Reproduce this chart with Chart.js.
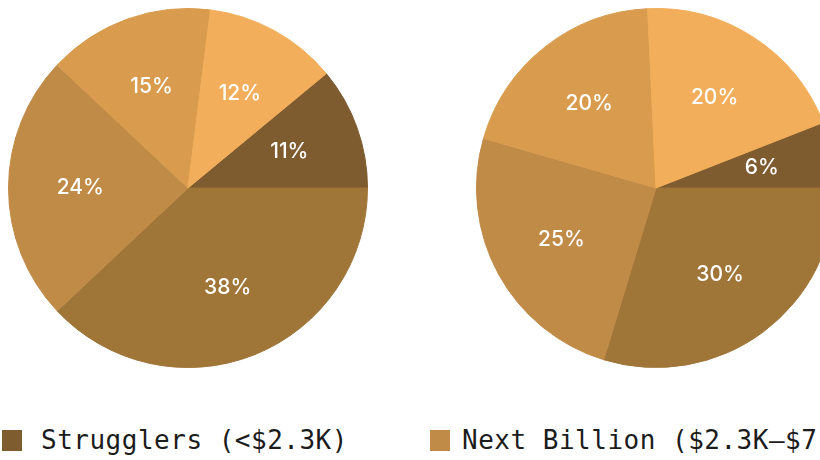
<!DOCTYPE html>
<html>
<head>
<meta charset="utf-8">
<script src="https://cdn.jsdelivr.net/npm/chart.js@4/dist/chart.umd.min.js"></script>
<style>
  html, body { margin: 0; padding: 0; background: #fff; overflow: hidden; }
  body { width: 820px; height: 460px; position: relative; }
  .pie { position: absolute; top: 8px; width: 360px; height: 360px; }
  #pie-a { left: 8px; }
  #pie-b { left: 476px; }
  #legend {
    position: absolute; left: 2px; top: 427px;
    display: flex; white-space: nowrap; width: 2400px;
    font-family: "DejaVu Sans Mono", monospace; font-size: 26px; color: #1c1c1c;
  }
  .item { display: flex; align-items: center; width: 428px; flex: none; }
  .swatch { width: 20px; height: 21px; margin-right: 19px; flex: none; }
  .item + .item .swatch { margin-right: 12px; }
  .item span.txt { line-height: 26px; letter-spacing: 0.5px; }
</style>
</head>
<body>
<div class="pie" id="pie-a"><canvas id="chart-a" width="360" height="360"></canvas></div>
<div class="pie" id="pie-b"><canvas id="chart-b" width="360" height="360"></canvas></div>
<div id="legend"></div>

<script>
(function () {
  'use strict';

  // segments, in legend order
  var segments = [
    'Strugglers (<$2.3K)',
    'Next Billion ($2.3K–$7.4K)',
    'Aspirers ($7.4K–$18.5K)',
    'Affluent ($18.5K–$37K)',
    'Elite (>$37K)'
  ];
  var segmentColors = ['#7f5b30', '#c08a47', '#a07538', '#d99c4e', '#f2ae5a'];

  // share of each segment (%) for the two pies, same order as segments
  var sharesLeft = [11, 24, 38, 15, 12];
  var sharesRight = [6, 25, 30, 20, 20];

  // clockwise order the slices are laid out in
  var sliceOrder = [0, 2, 1, 3, 4];

  var labelPlugin = {
    id: 'sliceLabels',
    afterDatasetsDraw: function (chart) {
      var ctx = chart.ctx;
      var ds = chart.data.datasets[0];
      var meta = chart.getDatasetMeta(0);
      ctx.save();
      ctx.fillStyle = '#ffffff';
      ctx.font = '500 21px Inter, Lato, sans-serif';
      ctx.textAlign = 'center';
      ctx.textBaseline = 'middle';
      meta.data.forEach(function (arc, i) {
        var p = arc.getProps(['x', 'y', 'startAngle', 'endAngle', 'outerRadius'], true);
        var mid = (p.startAngle + p.endAngle) / 2;
        var r = p.outerRadius * 0.6;
        ctx.fillText(ds.data[i] + '%', p.x + Math.cos(mid) * r, p.y + Math.sin(mid) * r);
      });
      ctx.restore();
    }
  };

  function drawPie(canvasId, shares) {
    var values = sliceOrder.map(function (i) { return shares[i]; });
    var colors = sliceOrder.map(function (i) { return segmentColors[i]; });
    var total = values.reduce(function (a, b) { return a + b; }, 0);
    // first slice ends at 3 o'clock
    var rotation = 90 - 360 * values[0] / total;

    return new Chart(document.getElementById(canvasId), {
      type: 'pie',
      data: {
        labels: sliceOrder.map(function (i) { return segments[i]; }),
        datasets: [{
          data: values,
          backgroundColor: colors,
          borderColor: colors,
          borderWidth: 1
        }]
      },
      options: {
        responsive: false,
        animation: false,
        rotation: rotation,
        layout: { padding: 0 },
        plugins: {
          legend: { display: false },
          tooltip: { enabled: false }
        }
      },
      plugins: [labelPlugin]
    });
  }

  function buildLegend() {
    var box = document.getElementById('legend');
    segments.forEach(function (name, i) {
      var item = document.createElement('div');
      item.className = 'item';
      var sw = document.createElement('div');
      sw.className = 'swatch';
      sw.style.background = segmentColors[i];
      var txt = document.createElement('span');
      txt.className = 'txt';
      txt.textContent = name;
      item.appendChild(sw);
      item.appendChild(txt);
      box.appendChild(item);
    });
  }

  drawPie('chart-a', sharesLeft);
  drawPie('chart-b', sharesRight);
  buildLegend();
})();
</script>
</body>
</html>
